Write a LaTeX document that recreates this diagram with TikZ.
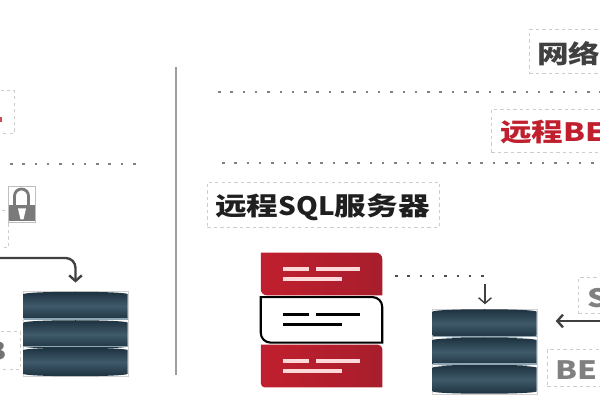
\documentclass[tikz,border=0pt]{standalone}
\usepackage{fontspec}
\usepackage{graphicx}
\newfontfamily\cjk{Noto Sans CJK SC}
\usetikzlibrary{arrows.meta,positioning}
\definecolor{cardred}{HTML}{C01F2E}
\definecolor{carddark}{HTML}{A81E2C}
\definecolor{dbdark}{HTML}{1C303D}
\definecolor{dbmid}{HTML}{3F5A6B}
\definecolor{dbline}{HTML}{8FA7B5}
\newcommand{\wlabel}[1]{\scalebox{1.25}[1]{\fontsize{18}{20}\selectfont\cjk\bfseries #1}}
\newcommand{\dblayers}[1]{%
	\begin{scope}[shift={(#1.center)}]
		\foreach \ly in {-43,-14.5,13} {
			\path[shade, top color=dbdark, bottom color=dbdark, middle color=dbmid]
			(-52,\ly+3) .. controls (-46,\ly) and (46,\ly) .. (52,\ly+3) -- (52,\ly+27)
			.. controls (46,\ly+30) and (-46,\ly+30) .. (-52,\ly+27) -- cycle;
		}
		\foreach \ly in {-15,12.5} {
			\draw[dbline, line width=1.1pt] (-52,\ly) -- (52,\ly);
		}
	\end{scope}
}
\newcommand{\cardshape}[3]{%
	\path[#2] (#1.north west) [rounded corners=#3] -- (#1.north east) [sharp corners] -- (#1.south east)
	[rounded corners=#3] -- (#1.south west) [sharp corners] -- cycle;
}
\newcommand{\cardbars}[2]{%
	\begin{scope}[shift={(#1.center)}, line width=2.3pt, color=#2]
		\draw (-38.5,-5) -- (-12.5,-5);
		\draw (-5.5,-5) -- (38.5,-5);
		\draw (-38.5,5) -- (20.5,5);
	\end{scope}
}
\tikzset{
	dashbox/.style={draw=black!20, line width=0.7pt, dash pattern=on 2.4pt off 2.2pt, inner sep=0pt},
	dotrule/.style={draw=black!50, line width=1.8pt, dash pattern=on 1.8pt off 6.95pt},
	arrowline/.style={draw=black!75, line width=1.7pt, -{Straight Barb[length=4pt,width=9pt]}},
	dbnode/.style={draw=black!18, line width=0.6pt, minimum width=74.7pt, minimum height=60.5pt, inner sep=0pt},
	cardnode/.style={minimum width=86pt, minimum height=30pt, inner sep=0pt},
}
\begin{document}
\begin{tikzpicture}[x=0.025cm, y=-0.025cm]
	\useasboundingbox (0,0) rectangle (600,400);
	\clip (0,0) rectangle (600,400);
	% divider
	\coordinate (septop) at (176,67);
	\coordinate (sepbot) at (176,375);
	\draw[black!38, line width=2.1pt] (septop) -- (sepbot);

	% left side
	\node (leftred) [dashbox, anchor=east, minimum width=40pt, minimum height=31pt] at (14.5,112) {};
	\fill[cardred!80] (0,117.5) rectangle (2,122);
	\coordinate (ldot1) at (10,164);
	\coordinate (ldot2) at (136,164);
	\draw[dotrule] (ldot1) -- (ldot2);
	\node (leftbox) [dashbox, anchor=east, minimum width=40pt, minimum height=27pt] at (8.5,229) {};
	\node (lockbox) [draw=black!25, line width=0.5pt, fill=white, minimum width=19pt, minimum height=25.5pt, inner sep=0pt] at (21.5,204) {};
	\fill[black!52] (8.5,205) rectangle (34.5,221.5);
	\draw[black!52, line width=2pt] (14.5,205) -- (14.5,196) arc[start angle=180, end angle=360, radius=7] -- (28.5,205);
	\fill[white] (18,208.5) -- (26,208.5) -- (23.5,219.5) -- (20.5,219.5) -- cycle;
	\node (leftdb) [dbnode] at (75.5,334) {};
	\dblayers{leftdb}
	\node (leftb) [dashbox, anchor=east, minimum width=40pt, minimum height=26.5pt] at (21,350.5) {};
	\node (bcut) [anchor=east, text=black!55, inner sep=0pt] at (7,351) {\wlabel{B}};
	\coordinate (arrowin) at (-5,258);
	\draw[arrowline, rounded corners=7pt, shorten >=6pt] (arrowin) -| (leftdb.north);

	% right side
	\node (netbox) [dashbox, anchor=west, minimum width=80pt, minimum height=31pt] at (529,51.5) {};
	\node (net) [anchor=west, text=black!75, inner sep=0pt] at (537,54) {\wlabel{网络}};
	\coordinate (rdot1) at (218,92);
	\coordinate (rdot2) at (605,92);
	\draw[dotrule] (rdot1) -- (rdot2);
	\node (remotebox) [dashbox, anchor=west, minimum width=90pt, minimum height=31pt] at (491,131) {};
	\node (remote) [anchor=west, text=cardred, inner sep=0pt] at (500,132.5) {\wlabel{远程BE}};
	\coordinate (rdot3) at (222,163);
	\coordinate (rdot4) at (605,163);
	\draw[dotrule] (rdot3) -- (rdot4);
	\node (sqlbox) [dashbox, anchor=west, minimum width=165pt, minimum height=32pt] at (207,204.5) {};
	\node (sql) [anchor=west, text=black!88, inner sep=0pt] at (215,207) {\wlabel{远程\scalebox{.88}[1]{SQL}服务器}};

	\node (card1) [cardnode] at (321.5,274) {};
	\node (card2) [cardnode, minimum height=32pt, below=1.2pt of card1] {};
	\node (card3) [cardnode, below=1.5pt of card2] {};
	\cardshape{card1}{left color=cardred, right color=carddark}{4.5pt}
	\cardshape{card2}{draw=black, line width=1.5pt, fill=white}{7pt}
	\cardshape{card3}{left color=cardred, right color=carddark}{3pt}
	\cardbars{card1}{red!15!white}
	\cardbars{card2}{black}
	\cardbars{card3}{red!15!white}

	\node (rightdb) [dbnode] at (484.5,351.5) {};
	\dblayers{rightdb}
	\coordinate (dotstart) at (395,276);
	\coordinate (dotend) at (485,276);
	\draw[dotrule, draw=black!70] (dotstart) -- (dotend);
	\draw[arrowline, line width=1pt, shorten <=6pt, shorten >=3pt] (dotend) -- (dotend |- rightdb.north);

	\node (sbox) [dashbox, anchor=west, minimum width=40pt, minimum height=25pt] at (578,295.5) {};
	\node (scut) [anchor=west, text=black!50, inner sep=0pt] at (587,298) {\wlabel{S}};
	\coordinate (arrowout) at (605,321);
	\draw[arrowline, shorten >=13pt] (arrowout) -- (rightdb.east |- arrowout);
	\node (bedbox) [dashbox, anchor=west, minimum width=60pt, minimum height=27pt] at (547,368) {};
	\node (bed) [anchor=west, text=black!50, inner sep=0pt] at (555,370) {\wlabel{BE}};
\end{tikzpicture}
\end{document}
